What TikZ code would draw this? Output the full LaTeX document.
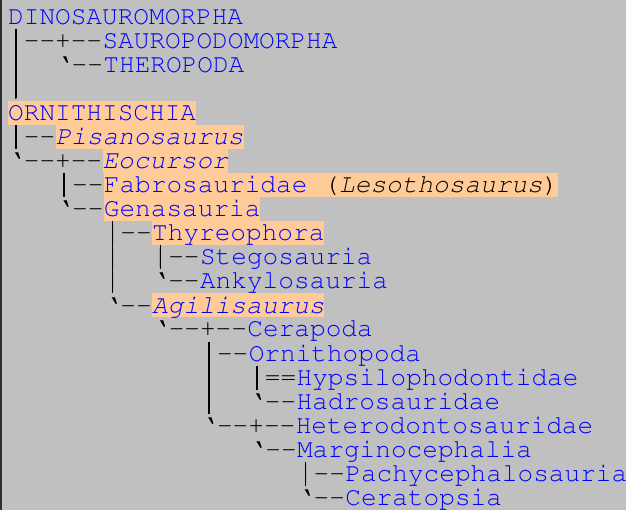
\documentclass[tikz,border=0pt]{standalone}
\usepackage[T1]{fontenc}
\definecolor{bgc}{HTML}{C0C0C0}
\definecolor{edgec}{HTML}{2E2E2E}
\definecolor{hlc}{HTML}{FFCC99}
\definecolor{txtblue}{HTML}{0000FF}
\newcommand{\monosize}{\fontencoding{T1}\fontfamily{pcr}\fontsize{26.1}{24}\selectfont\fontdimen2\font=16.1pt\relax}
\newcommand{\dd}{-{}-}
\begin{document}
\begin{tikzpicture}[x=1pt,y=-1pt,
  treechars/.style={anchor=base west,inner sep=0pt,text=black,font=\monosize},
  taxon/.style={anchor=base west,inner sep=0pt,text=txtblue,font=\monosize,text height=19.5pt,text depth=4.5pt},
  taxonhl/.style={taxon,fill=hlc},
  barline/.style={draw=black,line width=1.4pt}]
\fill[bgc] (0,0) rectangle (626,510);
\fill[edgec] (0,0) rectangle (2.3,510);
\useasboundingbox (0,0) rectangle (626,510);
% row 0
\node[taxon] (n0) at (8,25) {DINOSAUROMORPHA};
% row 1
\node[treechars] (p1) at (8,49) {|\dd+\dd};
\node[taxon] (n1) at (p1.base east) {SAUROPODOMORPHA};
% row 2
\node[treechars] (p2) at (8,73) {|~~`\dd};
\node[taxon] (n2) at (p2.base east) {THEROPODA};
% row 3
\node[treechars] (p3) at (8,97) {|};
% row 4
\node[taxonhl] (n4) at (8,121) {ORNITHISCHIA};
% row 5
\node[treechars] (p5) at (8,145) {|\dd};
\node[taxonhl] (n5) at (p5.base east) {\slshape Pisanosaurus};
% row 6
\node[treechars] (p6) at (8,169) {`\dd+\dd};
\node[taxonhl] (n6) at (p6.base east) {\slshape Eocursor};
% row 7
\node[treechars] (p7) at (8,193) {~~~|\dd};
\node[taxonhl] (n7) at (p7.base east) {Fabrosauridae~\textcolor{black}{(\textsl{Lesothosaurus})}};
% row 8
\node[treechars] (p8) at (8,217) {~~~`\dd};
\node[taxonhl] (n8) at (p8.base east) {Genasauria};
% row 9
\node[treechars] (p9) at (8,241) {~~~~~~|\dd};
\node[taxonhl] (n9) at (p9.base east) {Thyreophora};
% row 10
\node[treechars] (p10) at (8,265) {~~~~~~|~~|\dd};
\node[taxon] (n10) at (p10.base east) {Stegosauria};
% row 11
\node[treechars] (p11) at (8,289) {~~~~~~|~~`\dd};
\node[taxon] (n11) at (p11.base east) {Ankylosauria};
% row 12
\node[treechars] (p12) at (8,313) {~~~~~~`\dd};
\node[taxonhl] (n12) at (p12.base east) {\slshape Agilisaurus};
% row 13
\node[treechars] (p13) at (8,337) {~~~~~~~~~`\dd+\dd};
\node[taxon] (n13) at (p13.base east) {Cerapoda};
% row 14
\node[treechars] (p14) at (8,361) {~~~~~~~~~~~~|\dd};
\node[taxon] (n14) at (p14.base east) {Ornithopoda};
% row 15
\node[treechars] (p15) at (8,385) {~~~~~~~~~~~~|~~|==};
\node[taxon] (n15) at (p15.base east) {Hypsilophodontidae};
% row 16
\node[treechars] (p16) at (8,409) {~~~~~~~~~~~~|~~`\dd};
\node[taxon] (n16) at (p16.base east) {Hadrosauridae};
% row 17
\node[treechars] (p17) at (8,433) {~~~~~~~~~~~~`\dd+\dd};
\node[taxon] (n17) at (p17.base east) {Heterodontosauridae};
% row 18
\node[treechars] (p18) at (8,457) {~~~~~~~~~~~~~~~`\dd};
\node[taxon] (n18) at (p18.base east) {Marginocephalia};
% row 19
\node[treechars] (p19) at (8,481) {~~~~~~~~~~~~~~~~~~|\dd};
\node[taxon] (n19) at (p19.base east) {Pachycephalosauria};
% row 20
\node[treechars] (p20) at (8,505) {~~~~~~~~~~~~~~~~~~`\dd};
\node[taxon] (n20) at (p20.base east) {Ceratopsia};
% the | characters join into continuous vertical strokes
\coordinate (a1) at (15.83,29.5);  \coordinate (a2) at (15.83,98.5);
\coordinate (b1) at (15.83,125.5); \coordinate (b2) at (15.83,149.5);
\coordinate (c1) at (64.13,173.5); \coordinate (c2) at (64.13,197.5);
\coordinate (d1) at (112.43,221.5); \coordinate (d2) at (112.43,293.5);
\coordinate (e1) at (160.29,245.5); \coordinate (e2) at (160.29,269.5);
\coordinate (f1) at (209.03,341.5); \coordinate (f2) at (209.03,413.5);
\coordinate (g1) at (256.89,365.5); \coordinate (g2) at (256.89,389.5);
\coordinate (h1) at (305.63,461.5); \coordinate (h2) at (305.63,485.5);
\draw[barline] (a1) -- (a2);
\draw[barline] (b1) -- (b2);
\draw[barline] (c1) -- (c2);
\draw[barline] (d1) -- (d2);
\draw[barline] (e1) -- (e2);
\draw[barline] (f1) -- (f2);
\draw[barline] (g1) -- (g2);
\draw[barline] (h1) -- (h2);
\end{tikzpicture}
\end{document}
